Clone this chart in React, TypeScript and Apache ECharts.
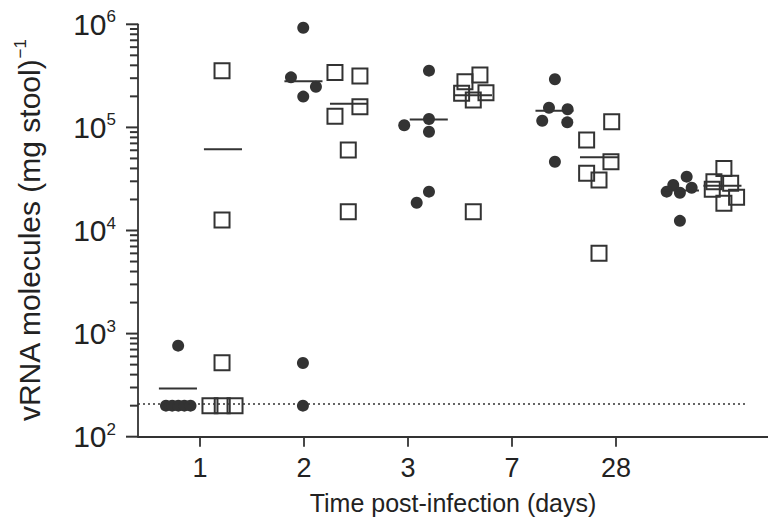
import React, { useEffect, useRef } from "react";
import * as echarts from "echarts";

// Category (day) labels on the x axis, placed at axis positions 1..5
const dayLabels = ["1", "2", "3", "7", "28"];
const dayTickPositions = [1, 2, 3, 4, 5];
// y-axis range (log scale)
const yMin = 100;
const yMax = 1e6;
const detectionLimit = 210;

// Group 1 (filled circles): values per day and their horizontal positions (axis units)
const circleValues = [
  [764, 200, 200, 200, 200, 200],
  [927000, 306000, 248000, 199000, 519, 200],
  [355000, 105000, 120600, 90800, 23800, 18600],
  [293000, 155000, 150000, 116000, 112000, 46400],
  [33300, 27600, 23800, 23200, 26000, 12400],
];
const circleX = [
  [0.79, 0.673, 0.733, 0.792, 0.85, 0.909],
  [1.993, 1.875, 2.115, 1.993, 1.99, 1.99],
  [3.202, 2.964, 3.202, 3.202, 3.202, 3.084],
  [4.413, 4.356, 4.535, 4.291, 4.532, 4.413],
  [5.68, 5.551, 5.488, 5.615, 5.728, 5.615],
];
const circleCenters = [0.788, 1.995, 3.2, 4.409, 5.615];

// Group 2 (open squares)
const squareValues = [
  [355000, 12650, 522, 200, 200, 200],
  [340000, 315000, 128000, 159000, 60400, 15200],
  [322000, 277000, 214000, 217000, 184500, 15200],
  [113500, 75500, 46500, 35900, 30900, 6000],
  [40000, 29700, 25100, 28700, 21000, 18400],
];
const squareX = [
  [1.212, 1.212, 1.212, 1.096, 1.214, 1.337],
  [2.298, 2.538, 2.298, 2.538, 2.426, 2.426],
  [3.692, 3.548, 3.516, 3.75, 3.628, 3.628],
  [4.959, 4.718, 4.952, 4.718, 4.837, 4.837],
  [6.038, 5.942, 5.926, 6.103, 6.16, 6.038],
];
const squareCenters = [1.221, 2.433, 3.625, 4.837, 6.024];

// log minor tick multipliers per decade, plus the decade (major) ticks
const minorMultipliers = [2, 3, 4, 5, 6, 7, 8, 9];
const decades = [2, 3, 4, 5];
const majorTickValues = [100, 1000, 10000, 100000, 1000000];

const X_MIN = 0.404;
const X_MAX = 6.462;
const MEAN_HALF = 0.183;
const INK = "#333";
const TXT = "#222";
const FONT = "Liberation Sans, Arial, Helvetica, sans-serif";
const GRID_TOP = 24.3;
const GRID_BOTTOM = 90.3;

const mean = (a: number[]) => a.reduce((s, v) => s + v, 0) / a.length;

export default function App() {
  const ref = useRef<HTMLDivElement>(null);

  useEffect(() => {
    if (!ref.current) return;
    const chart = echarts.init(ref.current, null, { renderer: "svg" });

    const circlePts: number[][] = [];
    circleValues.forEach((vals, i) => vals.forEach((v, j) => circlePts.push([circleX[i][j], v])));
    const squarePts: number[][] = [];
    squareValues.forEach((vals, i) => vals.forEach((v, j) => squarePts.push([squareX[i][j], v])));

    const meanPts: number[][] = [];
    circleValues.forEach((vals, i) => meanPts.push([circleCenters[i], mean(vals)]));
    squareValues.forEach((vals, i) => meanPts.push([squareCenters[i], mean(vals)]));

    // tick strip (x from 0 to 1 spans the 12px left of the y axis): [startX, value]
    const tickPts: number[][] = [];
    decades.forEach((k) => minorMultipliers.forEach((m) => tickPts.push([0.33, m * Math.pow(10, k)])));
    majorTickValues.forEach((v) => tickPts.push([0, v]));

    const option: any = {
      animation: false,
      grid: [
        { left: 138, right: 0, top: GRID_TOP, bottom: GRID_BOTTOM, containLabel: false },
        // narrow strip just left of the y axis that holds the log ticks
        { left: 126, width: 12, top: GRID_TOP, bottom: GRID_BOTTOM, containLabel: false },
      ],
      xAxis: [
        {
          type: "value",
          gridIndex: 0,
          min: X_MIN,
          max: X_MAX,
          name: "Time post-infection (days)",
          nameLocation: "middle",
          nameGap: 54,
          nameTextStyle: { fontSize: 25, fontFamily: FONT, color: TXT },
          axisLine: { show: true, onZero: false, lineStyle: { color: INK, width: 1.8 } },
          axisTick: { show: true, customValues: dayTickPositions, length: 10, lineStyle: { color: INK, width: 1.8 } },
          axisLabel: {
            customValues: dayTickPositions,
            formatter: (v: number) => dayLabels[Math.round(v) - 1] ?? "",
            fontSize: 27,
            fontFamily: FONT,
            color: TXT,
            margin: 18,
          },
          splitLine: { show: false },
        },
        { type: "value", gridIndex: 1, min: 0, max: 1, show: false },
      ],
      yAxis: [
        {
          type: "log",
          gridIndex: 0,
          logBase: 10,
          min: yMin,
          max: yMax,
          name: "{t|vRNA molecules (mg stool)}{s|−1}",
          nameLocation: "middle",
          nameGap: 92,
          nameRotate: 90,
          nameTextStyle: {
            rich: {
              t: { fontSize: 30, fontFamily: FONT, color: TXT, lineHeight: 34 },
              s: { fontSize: 17, fontFamily: FONT, color: TXT, verticalAlign: "top", lineHeight: 18 },
            },
          },
          axisLine: { show: true, onZero: false, lineStyle: { color: INK, width: 1.8 } },
          axisTick: { show: false },
          axisLabel: {
            margin: 22,
            formatter: (v: number) => `{b|10}{s|${Math.round(Math.log10(v))}}`,
            rich: {
              b: { fontSize: 30, fontFamily: FONT, color: TXT, lineHeight: 32 },
              s: { fontSize: 17, fontFamily: FONT, color: TXT, verticalAlign: "top", lineHeight: 17 },
            },
          },
          splitLine: { show: false },
        },
        { type: "log", gridIndex: 1, logBase: 10, min: yMin, max: yMax, show: false },
      ],
      series: [
        {
          type: "custom",
          name: "yTicks",
          xAxisIndex: 1,
          yAxisIndex: 1,
          clip: false,
          silent: true,
          data: tickPts,
          encode: { x: 0, y: 1 },
          z: 10,
          renderItem: (_p: any, api: any) => {
            const a = api.coord([api.value(0), api.value(1)]);
            const b = api.coord([1, api.value(1)]);
            return {
              type: "line",
              shape: { x1: a[0], y1: a[1], x2: b[0], y2: b[1] },
              style: { stroke: INK, lineWidth: 2 },
            };
          },
        },
        {
          type: "scatter",
          name: "circles",
          symbol: "circle",
          symbolSize: 12,
          itemStyle: { color: INK, opacity: 1 },
          data: circlePts,
          silent: true,
          z: 3,
          markLine: {
            silent: true,
            symbol: ["none", "none"],
            label: { show: false },
            lineStyle: { type: [2, 3], color: INK, width: 1.5 },
            data: [[{ coord: [X_MIN, detectionLimit] }, { coord: [6.27, detectionLimit] }]],
          },
        },
        {
          type: "scatter",
          name: "squares",
          symbol: "rect",
          symbolSize: 15,
          itemStyle: { color: "rgba(0,0,0,0)", borderColor: INK, borderWidth: 2, opacity: 1 },
          data: squarePts,
          silent: true,
          z: 3,
        },
        {
          type: "custom",
          name: "means",
          clip: false,
          silent: true,
          data: meanPts,
          encode: { x: 0, y: 1 },
          z: 4,
          renderItem: (_p: any, api: any) => {
            const c = api.value(0);
            const m = api.value(1);
            const a = api.coord([c - MEAN_HALF, m]);
            const b = api.coord([c + MEAN_HALF, m]);
            return {
              type: "line",
              shape: { x1: a[0], y1: a[1], x2: b[0], y2: b[1] },
              style: { stroke: INK, lineWidth: 2 },
            };
          },
        },
      ],
    };

    chart.setOption(option);
    return () => chart.dispose();
  }, []);

  return (
    <div ref={ref} style={{ position: "fixed", left: 0, top: 0, width: 768, height: 527, background: "#fff" }} />
  );
}
